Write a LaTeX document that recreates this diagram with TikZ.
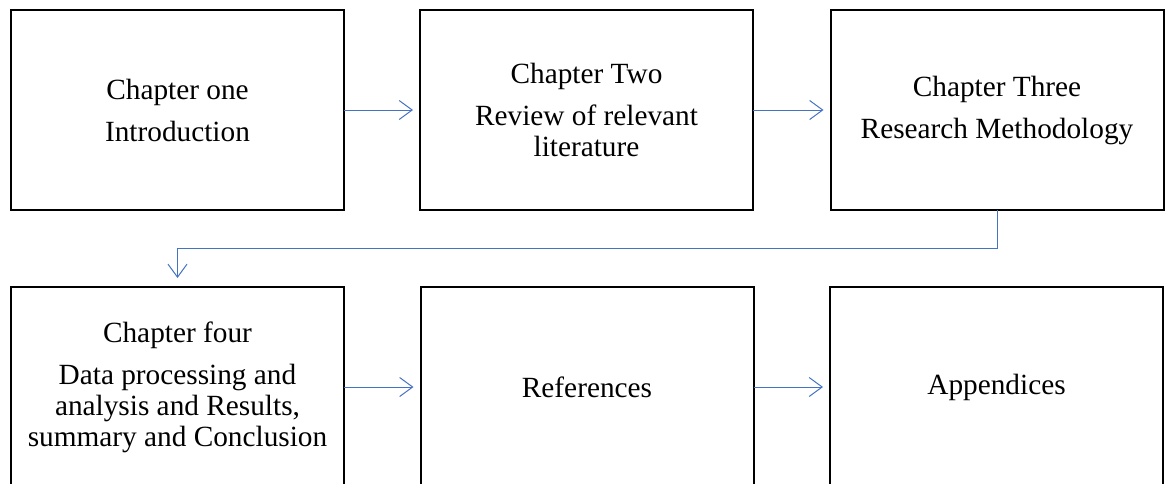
\documentclass[tikz,border=0pt]{standalone}
\usepackage{fontspec}
\setmainfont{Liberation Serif}
\usetikzlibrary{arrows.meta}
\definecolor{flowblue}{HTML}{4472C4}

\begin{document}
\begin{tikzpicture}[x=1pt,y=-1pt,
    chapbox/.style={draw,line width=2pt,inner sep=0pt,outer sep=0pt,
      minimum width=333pt,minimum height=200pt,align=center,
      font=\fontsize{29.3}{31}\selectfont},
    flow/.style={draw=flowblue,line width=1pt,
      -{Straight Barb[length=13pt,width=19pt]},shorten >=7pt}]
    \useasboundingbox (0,0) rectangle (1165,483);
    % top row
    \node[chapbox] (one)   at (177.5,110) {Chapter one\\[11pt]Introduction};
    \node[chapbox] (two)   at (586.5,110) {Chapter Two\\[11pt]Review of relevant\\literature};
    \node[chapbox] (three) at (997,110)   {Chapter Three\\[11pt]Research Methodology};
    % bottom row
    \node[chapbox] (four)  at (177.5,387) {Chapter four\\[11pt]Data processing and\\analysis and Results,\\summary and Conclusion};
    \node[chapbox] (refs)  at (587,387)   {References};
    \node[chapbox] (appx)  at (996.5,387) {Appendices};
    \draw[flow] (one) -- (two);
    \draw[flow] (two) -- (three);
    \draw[flow,shorten >=9pt] (three.south) -- ++(0,38) -| (four.north);
    \draw[flow] (four) -- (refs);
    \draw[flow] (refs) -- (appx);
  \end{tikzpicture}
\end{document}
